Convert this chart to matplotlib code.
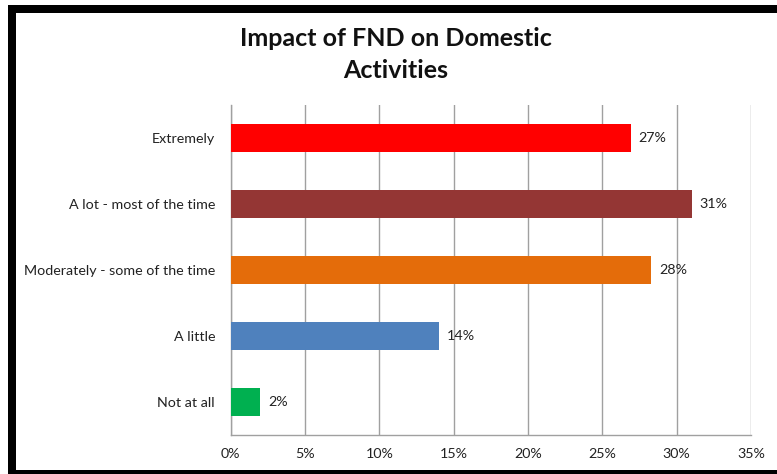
import matplotlib
matplotlib.use("Agg")
import matplotlib.pyplot as plt
from matplotlib.lines import Line2D

plt.rcParams['font.family'] = ['Lato', 'DejaVu Sans']

categories = ["Extremely", "A lot - most of the time", "Moderately - some of the time",
              "A little", "Not at all"]
values = [26.9, 31.0, 28.3, 14.0, 2.0]
value_labels = ["27%", "31%", "28%", "14%", "2%"]
colors = ["#FF0000", "#943634", "#E46C0A", "#4F81BD", "#00B050"]
xticks = [0, 5, 10, 15, 20, 25, 30, 35]
xtick_labels = ["0%", "5%", "10%", "15%", "20%", "25%", "30%", "35%"]

W, H = 777, 474
fig = plt.figure(figsize=(W / 100, H / 100), dpi=100)
left, right, top, bottom = 230.7, 751, 105, 435
ax = fig.add_axes([left / W, 1 - bottom / H, (right - left) / W, (bottom - top) / H])

ypos = list(range(len(categories)))
ax.barh(ypos, values, height=0.41, color=colors, zorder=3)
ax.set_ylim(len(categories) - 0.5, -0.5)
ax.set_xlim(0, 35)
ax.set_yticks(ypos)
ax.set_yticklabels(categories, fontsize=10.3, color="#222222")
ax.set_xticks(xticks)
ax.set_xticklabels(xtick_labels, fontsize=10.3, color="#222222")
ax.tick_params(axis='both', length=0)
ax.tick_params(axis='y', pad=11.3)
ax.tick_params(axis='x', pad=9)
ax.grid(axis='x', color="#A0A0A0", linewidth=1, zorder=0)
for s in ['top', 'right']:
    ax.spines[s].set_visible(False)
for s in ['left', 'bottom']:
    ax.spines[s].set_color("#A0A0A0")
    ax.spines[s].set_linewidth(1)

for y, v, lab in zip(ypos, values, value_labels):
    ax.annotate(lab, (v, y), xytext=(8, 0), textcoords='offset pixels',
                va='center', ha='left', fontsize=10.3, color="#222222")

fig.text(396 / W, 1 - 38 / H, "Impact of FND on Domestic", ha='center', va='center',
         fontsize=18, fontweight='bold', color="#111111")
fig.text(396 / W, 1 - 70 / H, "Activities", ha='center', va='center',
         fontsize=18, fontweight='bold', color="#111111")

# Black frame (right side beyond the image)
lw = 8 * 72 / 100
fig.add_artist(Line2D([12 / W, 12 / W], [1 - 5 / H, 1 - 478 / H], color='black', linewidth=lw,
                      transform=fig.transFigure, solid_capstyle='butt'))
fig.add_artist(Line2D([8 / W, 1.0], [1 - 9 / H, 1 - 9 / H], color='black', linewidth=lw,
                      transform=fig.transFigure, solid_capstyle='butt'))
fig.add_artist(Line2D([8 / W, 1.0], [1 - 474 / H, 1 - 474 / H], color='black', linewidth=lw,
                      transform=fig.transFigure, solid_capstyle='butt'))

fig.savefig("out.png", dpi=100)
